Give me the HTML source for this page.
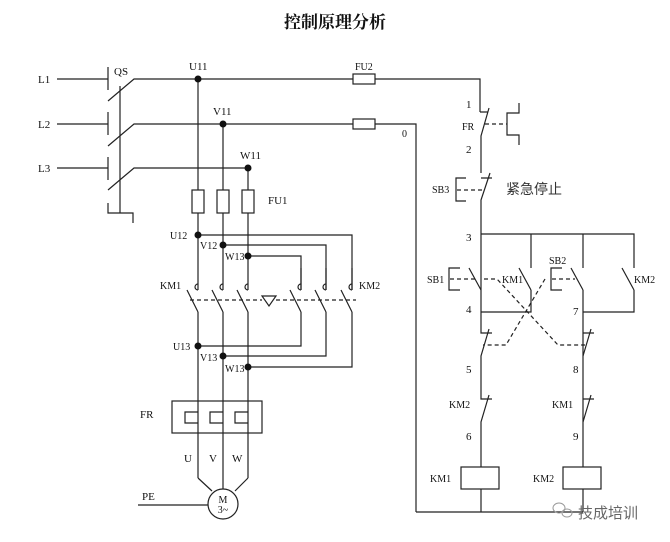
<!DOCTYPE html>
<html><head><meta charset="utf-8"><style>
body{margin:0;background:#fff;width:670px;height:542px;overflow:hidden}
svg{display:block}
text{font-family:"Liberation Serif","Noto Serif CJK SC",serif;font-size:11px;fill:#111}
</style></head><body>
<svg width="670" height="542" viewBox="0 0 670 542" xmlns="http://www.w3.org/2000/svg">
<text x="335" y="28" text-anchor="middle" style="font-size:17px;font-weight:bold">控制原理分析</text>
<g stroke="#222" stroke-width="1.2" fill="none">
<!-- L lines -->
<path d="M57 79H108M108 67V90M108 101L134 79H480V112"/>
<path d="M57 124H108M108 112V135M108 146L134 124H416V512"/>
<path d="M57 168H108M108 157V180M108 190L134 168H248"/>
<path d="M120 86V213M108 203V213H133V223"/>
<!-- FU2 -->
<rect x="353" y="74" width="22" height="10" fill="#fff"/>
<rect x="353" y="119" width="22" height="10" fill="#fff"/>
<!-- phase verticals -->
<path d="M198 79V268M223 124V268M248 168V268"/>
<rect x="192" y="190" width="12" height="23" fill="#fff"/>
<rect x="217" y="190" width="12" height="23" fill="#fff"/>
<rect x="242" y="190" width="12" height="23" fill="#fff"/>
<path d="M198 235H352V290M223 245H326V290M248 256H301V290"/>
<!-- hooks -->
<g>
<path d="M198 268V290M223 268V290M248 268V290M301 268V290M326 268V290M352 268V290"/>
<path d="M198 284a3 3 0 1 0 0 6M223 284a3 3 0 1 0 0 6M248 284a3 3 0 1 0 0 6M301 284a3 3 0 1 0 0 6M326 284a3 3 0 1 0 0 6M352 284a3 3 0 1 0 0 6"/>
<path d="M187 290L198 312M212 290L223 312M237 290L248 312M290 290L301 312M315 290L326 312M341 290L352 312"/>
</g>
<path d="M190 300H262M276 300H356" stroke-dasharray="4 3"/>
<path d="M262 296H276L269 306Z"/>
<path d="M198 312V478M223 312V490M248 312V478"/>
<path d="M198 346H301V312M223 356H326V312M248 367H352V312"/>
<rect x="172" y="401" width="90" height="32"/>
<path d="M198 412H185V423H198M223 412H210V423H223M248 412H235V423H248" />
<path d="M198 478L212 491M248 478L235 491"/>
<circle cx="223" cy="504" r="15" fill="#fff"/>
<path d="M138 505H208"/>
<!-- control right -->
<path d="M480 112H488M489 108L481 136V173M481 178H492M490 173L481 200V312"/>
<path d="M485 124H507" stroke-dasharray="4 3"/>
<path d="M519 103V113H507V135H519V145"/>
<path d="M457 190H483" stroke-dasharray="4 3"/>
<path d="M466 178H456V201H466"/>
<path d="M481 234H634V268M531 234V268M583 234V268"/>
<path d="M469 268L481 290M519 268L531 290M571 268L583 290M622 268L634 290"/>
<path d="M531 290V312H481M583 290V512M634 290V312H583"/>
<path d="M460 268H449V290H460M562 268H551V290H562"/>
<path d="M450 279H475M484 279H497L558 345H585M552 279H575M545 279L506 345H483" stroke-dasharray="4 3"/>
<path d="M481 312V333H492M489 329L481 356V399H492M489 395L481 422V467"/>
<path d="M583 333H594M591 329L583 356M583 399H594M591 395L583 422"/>
<rect x="461" y="467" width="38" height="22" fill="#fff"/>
<rect x="563" y="467" width="38" height="22" fill="#fff"/>
<path d="M481 489V512M416 512H583"/>
</g>
<g fill="#111">
<circle cx="198" cy="79" r="3.5"/><circle cx="223" cy="124" r="3.5"/><circle cx="248" cy="168" r="3.5"/>
<circle cx="198" cy="235" r="3.5"/><circle cx="223" cy="245" r="3.5"/><circle cx="248" cy="256" r="3.5"/>
<circle cx="198" cy="346" r="3.5"/><circle cx="223" cy="356" r="3.5"/><circle cx="248" cy="367" r="3.5"/>
</g>
<rect x="202" y="448" width="8" height="14" fill="#fff"/><rect x="227" y="448" width="8" height="14" fill="#fff"/>
<text x="38" y="83">L1</text><text x="38" y="128">L2</text><text x="38" y="172">L3</text>
<text x="114" y="75">QS</text><text x="189" y="70">U11</text><text x="213" y="115">V11</text><text x="240" y="159">W11</text>
<text x="355" y="70" style="font-size:10px">FU2</text><text x="402" y="137" style="font-size:10px">0</text>
<text x="268" y="204">FU1</text>
<text x="170" y="239" style="font-size:10px">U12</text><text x="200" y="249" style="font-size:10px">V12</text><text x="225" y="260" style="font-size:10px">W13</text>
<text x="160" y="289" style="font-size:10px">KM1</text><text x="359" y="289" style="font-size:10px">KM2</text>
<text x="173" y="350" style="font-size:10px">U13</text><text x="200" y="361" style="font-size:10px">V13</text><text x="225" y="372" style="font-size:10px">W13</text>
<text x="140" y="418">FR</text>
<text x="184" y="462">U</text><text x="209" y="462">V</text><text x="232" y="462">W</text>
<text x="142" y="500">PE</text>
<text x="223" y="503" text-anchor="middle" style="font-size:10px">M</text>
<text x="223" y="513" text-anchor="middle" style="font-size:10px">3~</text>
<text x="466" y="108">1</text><text x="462" y="130" style="font-size:10px">FR</text><text x="466" y="153">2</text>
<text x="432" y="193" style="font-size:10px">SB3</text>
<text x="506" y="194" style="font-family:'Noto Sans CJK SC',sans-serif;font-size:14px;fill:#333">紧急停止</text>
<text x="466" y="241">3</text>
<text x="427" y="283" style="font-size:10px">SB1</text><text x="502" y="283" style="font-size:10px">KM1</text>
<text x="549" y="264" style="font-size:10px">SB2</text><text x="634" y="283" style="font-size:10px">KM2</text>
<text x="466" y="313">4</text><text x="573" y="315">7</text>
<text x="466" y="373">5</text><text x="573" y="373">8</text>
<text x="449" y="408" style="font-size:10px">KM2</text><text x="552" y="408" style="font-size:10px">KM1</text>
<text x="466" y="440">6</text><text x="573" y="440">9</text>
<text x="430" y="482" style="font-size:10px">KM1</text><text x="533" y="482" style="font-size:10px">KM2</text>
<g fill="none" stroke="#999" stroke-width="1"><ellipse cx="559" cy="508" rx="6" ry="5"/><ellipse cx="567" cy="513" rx="5" ry="4"/></g>
<text x="578" y="518" style="font-family:'Noto Sans CJK SC',sans-serif;font-size:15px;fill:#666">技成培训</text>
</svg>
</body></html>
